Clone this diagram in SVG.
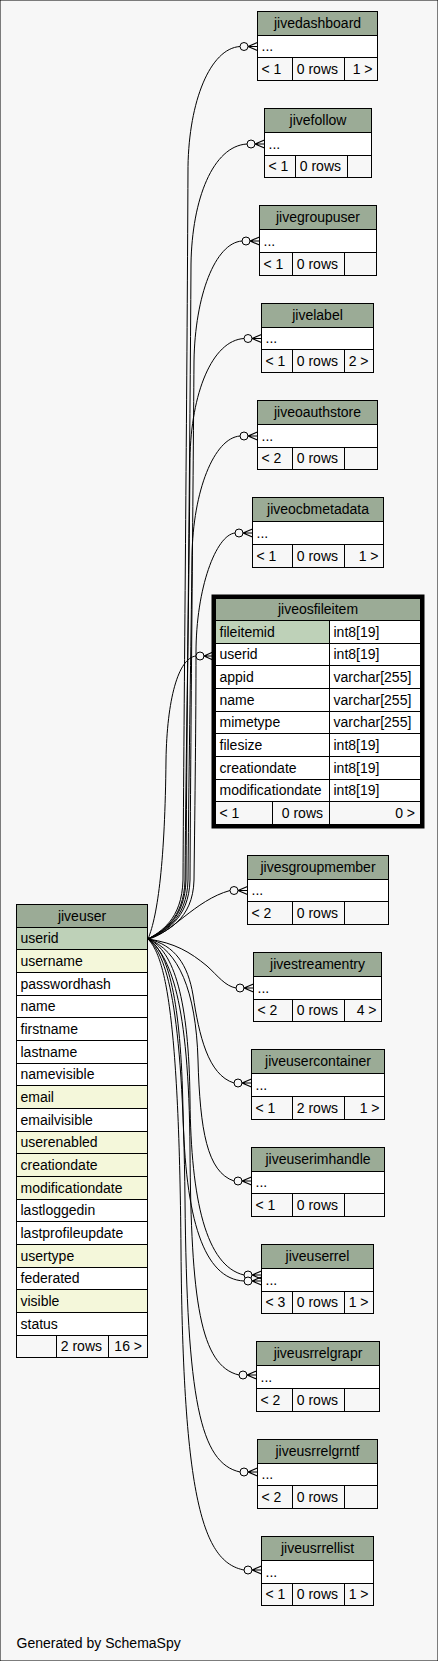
<svg xmlns="http://www.w3.org/2000/svg" width="438" height="1661" viewBox="0 0 438 1661">
<style>
text{font-family:"Liberation Sans",Arial,Helvetica,sans-serif;font-size:14px;fill:#000}
.c{text-anchor:middle}
.r{text-anchor:end}
rect{stroke:#000;stroke-width:1}
.h{fill:#9bab96}
.pk{fill:#bed1b8}
.ix{fill:#f4f7da}
.w{fill:#ffffff}
.f{fill:#f7f7f7}
.e path{fill:none;stroke:#000;stroke-width:1}
.e circle{fill:#f7f7f7;stroke:#000;stroke-width:1}
.e .cr{fill:none;stroke:#000;stroke-width:1.2}
</style>
<rect x="0" y="0" width="438" height="1661" fill="#f7f7f7" stroke="none"/>
<g id="connectors" class="e">
<path d="M148,939 C160,932 182,920 183,880 C184,700 187,400 188,166.5 C189,101.5 210,48.5 240,46.5"/>
<path d="M148,939 C162,932 185,920 186,880 C187,700 190,450 191,264 C192,199 213,146 247,144"/>
<path d="M148,939 C164,932 189,920 190,880 C191,700 193,500 194,361 C195,296 215,243 242,241"/>
<path d="M148,939 C161,932 184,920 185,880 C186,750 189,600 190,458.5 C191,393.5 212,340.5 244,338.5"/>
<path d="M148,939 C163,932 187,920 188,880 C189,750 191,650 192,556 C193,491 214,438 240,436"/>
<path d="M148,939 C166,932 193,920 194,880 C195,800 196,720 196,653 C196,588 216,535 235,533"/>
<path d="M148,939 C158,915 165,860 166,760 C167,700 178,658 196,656"/>
<path d="M148,939 C170,935 195,900 230,890.5"/>
<path d="M148,939 C175,943 190,952 207,966 C218,976 225,986 236,988"/>
<path d="M148,939 C175,945 188,965 193,995 C199,1035 208,1075 234,1083"/>
<path d="M148,939 C178,950 196,990 198,1060 C200,1130 207,1172 234,1181"/>
<path d="M148,939 C174,950 189,1000 190,1100 C191,1200 206,1266 244,1275"/>
<path d="M148,939 C168,950 181,1000 183,1110 C185,1220 204,1279 244,1281"/>
<path d="M148,939 C170,955 189,1000 190,1150 C191,1300 200,1366 239,1375"/>
<path d="M148,939 C166,955 183,1000 185,1200 C187,1400 200,1463 240,1472"/>
<path d="M148,939 C163,955 179,1000 181,1250 C183,1500 203,1562 244,1570"/>
<circle cx="244" cy="46.5" r="4"/><path class="cr" d="M248,46.5 L257.5,42.5 M248,46.5 L257.5,46.5 M248,46.5 L257.5,50.5"/>
<circle cx="251" cy="144" r="4"/><path class="cr" d="M255,144 L264.5,140 M255,144 L264.5,144 M255,144 L264.5,148"/>
<circle cx="246" cy="241" r="4"/><path class="cr" d="M250,241 L259.5,237 M250,241 L259.5,241 M250,241 L259.5,245"/>
<circle cx="248" cy="338.5" r="4"/><path class="cr" d="M252,338.5 L261.5,334.5 M252,338.5 L261.5,338.5 M252,338.5 L261.5,342.5"/>
<circle cx="244" cy="436" r="4"/><path class="cr" d="M248,436 L257.5,432 M248,436 L257.5,436 M248,436 L257.5,440"/>
<circle cx="239" cy="533" r="4"/><path class="cr" d="M243,533 L252.5,529 M243,533 L252.5,533 M243,533 L252.5,537"/>
<circle cx="200" cy="656" r="4"/><path class="cr" d="M204,656 L213,652 M204,656 L213,656 M204,656 L213,660"/>
<circle cx="234" cy="890.5" r="4"/><path class="cr" d="M238,890.5 L247.5,886.5 M238,890.5 L247.5,890.5 M238,890.5 L247.5,894.5"/>
<circle cx="240" cy="988" r="4"/><path class="cr" d="M244,988 L253.5,984 M244,988 L253.5,988 M244,988 L253.5,992"/>
<circle cx="238" cy="1083" r="4"/><path class="cr" d="M242,1083 L251.5,1079 M242,1083 L251.5,1083 M242,1083 L251.5,1087"/>
<circle cx="238" cy="1181" r="4"/><path class="cr" d="M242,1181 L251.5,1177 M242,1181 L251.5,1181 M242,1181 L251.5,1185"/>
<circle cx="248" cy="1275" r="4"/><path class="cr" d="M252,1275 L261.5,1271 M252,1275 L261.5,1275 M252,1275 L261.5,1279"/>
<circle cx="248" cy="1281" r="4"/><path class="cr" d="M252,1281 L261.5,1277 M252,1281 L261.5,1281 M252,1281 L261.5,1285"/>
<circle cx="243" cy="1375" r="4"/><path class="cr" d="M247,1375 L256.5,1371 M247,1375 L256.5,1375 M247,1375 L256.5,1379"/>
<circle cx="244" cy="1472" r="4"/><path class="cr" d="M248,1472 L257.5,1468 M248,1472 L257.5,1472 M248,1472 L257.5,1476"/>
<circle cx="248" cy="1570" r="4"/><path class="cr" d="M252,1570 L261.5,1566 M252,1570 L261.5,1570 M252,1570 L261.5,1574"/>
</g>

<g id="jivedashboard">
<rect class="h" x="257.5" y="11.5" width="120" height="24"/><text class="c" x="317.5" y="28">jivedashboard</text>
<rect class="w" x="257.5" y="35.5" width="120" height="22"/><text x="261.5" y="51">...</text>
<rect class="f" x="257.5" y="57.5" width="35" height="23"/><rect class="f" x="292.5" y="57.5" width="52" height="23"/><rect class="f" x="344.5" y="57.5" width="33" height="23"/>
<text x="261.5" y="73.5">&lt; 1</text><text class="r" x="338" y="73.5">0 rows</text><text class="r" x="372.5" y="73.5">1 &gt;</text>
</g>

<g id="jivefollow">
<rect class="h" x="264.5" y="108.5" width="107" height="24"/><text class="c" x="318" y="125">jivefollow</text>
<rect class="w" x="264.5" y="132.5" width="107" height="23"/><text x="268.5" y="148.5">...</text>
<rect class="f" x="264.5" y="155.5" width="31" height="22"/><rect class="f" x="295.5" y="155.5" width="52" height="22"/><rect class="f" x="347.5" y="155.5" width="24" height="22"/>
<text x="268.5" y="171">&lt; 1</text><text class="r" x="341" y="171">0 rows</text>
</g>

<g id="jivegroupuser">
<rect class="h" x="259.5" y="205.5" width="117" height="24"/><text class="c" x="318" y="222">jivegroupuser</text>
<rect class="w" x="259.5" y="229.5" width="117" height="23"/><text x="263.5" y="245.5">...</text>
<rect class="f" x="259.5" y="252.5" width="33" height="23"/><rect class="f" x="292.5" y="252.5" width="52" height="23"/><rect class="f" x="344.5" y="252.5" width="32" height="23"/>
<text x="263.5" y="268.5">&lt; 1</text><text class="r" x="338" y="268.5">0 rows</text>
</g>

<g id="jivelabel">
<rect class="h" x="261.5" y="303.5" width="112" height="24"/><text class="c" x="317.5" y="320">jivelabel</text>
<rect class="w" x="261.5" y="327.5" width="112" height="22"/><text x="265.5" y="343">...</text>
<rect class="f" x="261.5" y="349.5" width="31" height="23"/><rect class="f" x="292.5" y="349.5" width="52" height="23"/><rect class="f" x="344.5" y="349.5" width="29" height="23"/>
<text x="265.5" y="365.5">&lt; 1</text><text class="r" x="338" y="365.5">0 rows</text><text class="r" x="368.5" y="365.5">2 &gt;</text>
</g>

<g id="jiveoauthstore">
<rect class="h" x="257.5" y="400.5" width="120" height="24"/><text class="c" x="317.5" y="417">jiveoauthstore</text>
<rect class="w" x="257.5" y="424.5" width="120" height="23"/><text x="261.5" y="440.5">...</text>
<rect class="f" x="257.5" y="447.5" width="35" height="22"/><rect class="f" x="292.5" y="447.5" width="52" height="22"/><rect class="f" x="344.5" y="447.5" width="33" height="22"/>
<text x="261.5" y="463">&lt; 2</text><text class="r" x="338" y="463">0 rows</text>
</g>

<g id="jiveocbmetadata">
<rect class="h" x="252.5" y="497.5" width="131" height="24"/><text class="c" x="318" y="514">jiveocbmetadata</text>
<rect class="w" x="252.5" y="521.5" width="131" height="23"/><text x="256.5" y="537.5">...</text>
<rect class="f" x="252.5" y="544.5" width="40" height="23"/><rect class="f" x="292.5" y="544.5" width="52" height="23"/><rect class="f" x="344.5" y="544.5" width="39" height="23"/>
<text x="256.5" y="560.5">&lt; 1</text><text class="r" x="338" y="560.5">0 rows</text><text class="r" x="378.5" y="560.5">1 &gt;</text>
</g>

<g id="jiveosfileitem">
<rect x="212" y="595" width="212" height="233" fill="#000" stroke="none"/>
<rect class="h" x="215.5" y="598.5" width="205" height="22"/><text class="c" x="318" y="614">jiveosfileitem</text>
<rect class="pk" x="215.5" y="620.5" width="114" height="23"/><rect class="w" x="329.5" y="620.5" width="91" height="23"/>
<text x="219.5" y="636.5">fileitemid</text><text x="333.5" y="636.5">int8[19]</text>
<rect class="w" x="215.5" y="643.5" width="114" height="22"/><rect class="w" x="329.5" y="643.5" width="91" height="22"/>
<text x="219.5" y="659">userid</text><text x="333.5" y="659">int8[19]</text>
<rect class="w" x="215.5" y="665.5" width="114" height="23"/><rect class="w" x="329.5" y="665.5" width="91" height="23"/>
<text x="219.5" y="681.5">appid</text><text x="333.5" y="681.5">varchar[255]</text>
<rect class="w" x="215.5" y="688.5" width="114" height="23"/><rect class="w" x="329.5" y="688.5" width="91" height="23"/>
<text x="219.5" y="704.5">name</text><text x="333.5" y="704.5">varchar[255]</text>
<rect class="w" x="215.5" y="711.5" width="114" height="22"/><rect class="w" x="329.5" y="711.5" width="91" height="22"/>
<text x="219.5" y="727">mimetype</text><text x="333.5" y="727">varchar[255]</text>
<rect class="w" x="215.5" y="733.5" width="114" height="23"/><rect class="w" x="329.5" y="733.5" width="91" height="23"/>
<text x="219.5" y="749.5">filesize</text><text x="333.5" y="749.5">int8[19]</text>
<rect class="w" x="215.5" y="756.5" width="114" height="23"/><rect class="w" x="329.5" y="756.5" width="91" height="23"/>
<text x="219.5" y="772.5">creationdate</text><text x="333.5" y="772.5">int8[19]</text>
<rect class="w" x="215.5" y="779.5" width="114" height="22"/><rect class="w" x="329.5" y="779.5" width="91" height="22"/>
<text x="219.5" y="795">modificationdate</text><text x="333.5" y="795">int8[19]</text>
<rect class="f" x="215.5" y="801.5" width="57" height="23"/><rect class="f" x="272.5" y="801.5" width="57" height="23"/><rect class="f" x="329.5" y="801.5" width="91" height="23"/>
<text x="219.5" y="817.5">&lt; 1</text><text class="r" x="323" y="817.5">0 rows</text><text class="r" x="415" y="817.5">0 &gt;</text>
</g>

<g id="jivesgroupmember">
<rect class="h" x="247.5" y="855.5" width="141" height="24"/><text class="c" x="318" y="872">jivesgroupmember</text>
<rect class="w" x="247.5" y="879.5" width="141" height="22"/><text x="251.5" y="895">...</text>
<rect class="f" x="247.5" y="901.5" width="45" height="23"/><rect class="f" x="292.5" y="901.5" width="52" height="23"/><rect class="f" x="344.5" y="901.5" width="44" height="23"/>
<text x="251.5" y="917.5">&lt; 2</text><text class="r" x="338" y="917.5">0 rows</text>
</g>

<g id="jivestreamentry">
<rect class="h" x="253.5" y="952.5" width="128" height="24"/><text class="c" x="317.5" y="969">jivestreamentry</text>
<rect class="w" x="253.5" y="976.5" width="128" height="23"/><text x="257.5" y="992.5">...</text>
<rect class="f" x="253.5" y="999.5" width="39" height="22"/><rect class="f" x="292.5" y="999.5" width="52" height="22"/><rect class="f" x="344.5" y="999.5" width="37" height="22"/>
<text x="257.5" y="1015">&lt; 2</text><text class="r" x="338" y="1015">0 rows</text><text class="r" x="376.5" y="1015">4 &gt;</text>
</g>

<g id="jiveusercontainer">
<rect class="h" x="251.5" y="1049.5" width="133" height="24"/><text class="c" x="318" y="1066">jiveusercontainer</text>
<rect class="w" x="251.5" y="1073.5" width="133" height="23"/><text x="255.5" y="1089.5">...</text>
<rect class="f" x="251.5" y="1096.5" width="41" height="23"/><rect class="f" x="292.5" y="1096.5" width="52" height="23"/><rect class="f" x="344.5" y="1096.5" width="40" height="23"/>
<text x="255.5" y="1112.5">&lt; 1</text><text class="r" x="338" y="1112.5">2 rows</text><text class="r" x="379.5" y="1112.5">1 &gt;</text>
</g>

<g id="jiveuserimhandle">
<rect class="h" x="251.5" y="1147.5" width="133" height="24"/><text class="c" x="318" y="1164">jiveuserimhandle</text>
<rect class="w" x="251.5" y="1171.5" width="133" height="22"/><text x="255.5" y="1187">...</text>
<rect class="f" x="251.5" y="1193.5" width="41" height="23"/><rect class="f" x="292.5" y="1193.5" width="52" height="23"/><rect class="f" x="344.5" y="1193.5" width="40" height="23"/>
<text x="255.5" y="1209.5">&lt; 1</text><text class="r" x="338" y="1209.5">0 rows</text>
</g>

<g id="jiveuserrel">
<rect class="h" x="261.5" y="1244.5" width="112" height="24"/><text class="c" x="317.5" y="1261">jiveuserrel</text>
<rect class="w" x="261.5" y="1268.5" width="112" height="23"/><text x="265.5" y="1284.5">...</text>
<rect class="f" x="261.5" y="1291.5" width="31" height="22"/><rect class="f" x="292.5" y="1291.5" width="52" height="22"/><rect class="f" x="344.5" y="1291.5" width="29" height="22"/>
<text x="265.5" y="1307">&lt; 3</text><text class="r" x="338" y="1307">0 rows</text><text class="r" x="368.5" y="1307">1 &gt;</text>
</g>

<g id="jiveusrrelgrapr">
<rect class="h" x="256.5" y="1341.5" width="123" height="24"/><text class="c" x="318" y="1358">jiveusrrelgrapr</text>
<rect class="w" x="256.5" y="1365.5" width="123" height="23"/><text x="260.5" y="1381.5">...</text>
<rect class="f" x="256.5" y="1388.5" width="36" height="23"/><rect class="f" x="292.5" y="1388.5" width="52" height="23"/><rect class="f" x="344.5" y="1388.5" width="35" height="23"/>
<text x="260.5" y="1404.5">&lt; 2</text><text class="r" x="338" y="1404.5">0 rows</text>
</g>

<g id="jiveusrrelgrntf">
<rect class="h" x="257.5" y="1439.5" width="120" height="24"/><text class="c" x="317.5" y="1456">jiveusrrelgrntf</text>
<rect class="w" x="257.5" y="1463.5" width="120" height="22"/><text x="261.5" y="1479">...</text>
<rect class="f" x="257.5" y="1485.5" width="35" height="23"/><rect class="f" x="292.5" y="1485.5" width="52" height="23"/><rect class="f" x="344.5" y="1485.5" width="33" height="23"/>
<text x="261.5" y="1501.5">&lt; 2</text><text class="r" x="338" y="1501.5">0 rows</text>
</g>

<g id="jiveusrrellist">
<rect class="h" x="261.5" y="1536.5" width="112" height="24"/><text class="c" x="317.5" y="1553">jiveusrrellist</text>
<rect class="w" x="261.5" y="1560.5" width="112" height="23"/><text x="265.5" y="1576.5">...</text>
<rect class="f" x="261.5" y="1583.5" width="31" height="22"/><rect class="f" x="292.5" y="1583.5" width="52" height="22"/><rect class="f" x="344.5" y="1583.5" width="29" height="22"/>
<text x="265.5" y="1599">&lt; 1</text><text class="r" x="338" y="1599">0 rows</text><text class="r" x="368.5" y="1599">1 &gt;</text>
</g>

<g id="jiveuser">
<rect class="h" x="16.5" y="904.5" width="131" height="23"/><text class="c" x="82" y="920.5">jiveuser</text>
<rect class="pk" x="16.5" y="927.5" width="131" height="22"/><text x="20.5" y="943">userid</text>
<rect class="ix" x="16.5" y="949.5" width="131" height="23"/><text x="20.5" y="965.5">username</text>
<rect class="w" x="16.5" y="972.5" width="131" height="23"/><text x="20.5" y="988.5">passwordhash</text>
<rect class="w" x="16.5" y="995.5" width="131" height="22"/><text x="20.5" y="1011">name</text>
<rect class="w" x="16.5" y="1017.5" width="131" height="23"/><text x="20.5" y="1033.5">firstname</text>
<rect class="w" x="16.5" y="1040.5" width="131" height="23"/><text x="20.5" y="1056.5">lastname</text>
<rect class="w" x="16.5" y="1063.5" width="131" height="22"/><text x="20.5" y="1079">namevisible</text>
<rect class="ix" x="16.5" y="1085.5" width="131" height="23"/><text x="20.5" y="1101.5">email</text>
<rect class="w" x="16.5" y="1108.5" width="131" height="23"/><text x="20.5" y="1124.5">emailvisible</text>
<rect class="ix" x="16.5" y="1131.5" width="131" height="22"/><text x="20.5" y="1147">userenabled</text>
<rect class="ix" x="16.5" y="1153.5" width="131" height="23"/><text x="20.5" y="1169.5">creationdate</text>
<rect class="ix" x="16.5" y="1176.5" width="131" height="23"/><text x="20.5" y="1192.5">modificationdate</text>
<rect class="w" x="16.5" y="1199.5" width="131" height="22"/><text x="20.5" y="1215">lastloggedin</text>
<rect class="w" x="16.5" y="1221.5" width="131" height="23"/><text x="20.5" y="1237.5">lastprofileupdate</text>
<rect class="ix" x="16.5" y="1244.5" width="131" height="23"/><text x="20.5" y="1260.5">usertype</text>
<rect class="w" x="16.5" y="1267.5" width="131" height="22"/><text x="20.5" y="1283">federated</text>
<rect class="ix" x="16.5" y="1289.5" width="131" height="23"/><text x="20.5" y="1305.5">visible</text>
<rect class="w" x="16.5" y="1312.5" width="131" height="23"/><text x="20.5" y="1328.5">status</text>
<rect class="f" x="16.5" y="1335.5" width="40" height="22"/><rect class="f" x="56.5" y="1335.5" width="52" height="22"/><rect class="f" x="108.5" y="1335.5" width="39" height="22"/>
<text class="r" x="102" y="1351">2 rows</text><text class="r" x="142" y="1351">16 &gt;</text>
</g>

<text x="16.5" y="1648">Generated by SchemaSpy</text>
</svg>
